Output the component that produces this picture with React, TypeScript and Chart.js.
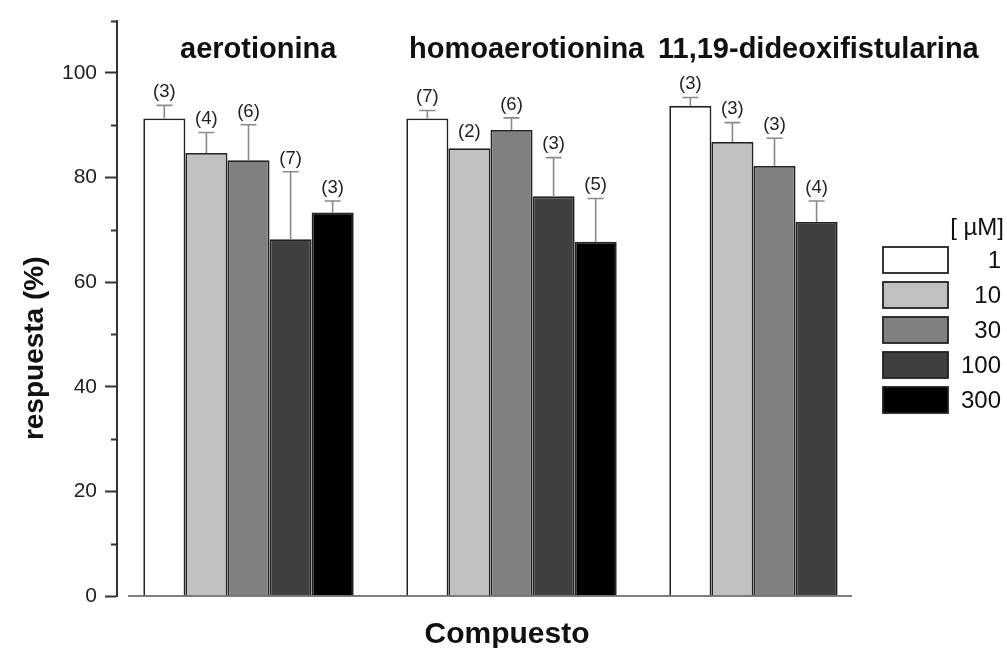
import React, { useEffect, useRef } from "react";
import { Chart, registerables } from "chart.js";

Chart.register(...registerables);

const compounds = ["aerotionina", "homoaerotionina", "11,19-dideoxifistularina"];
const concentrations = ["1", "10", "30", "100", "300"];
const barColors = ["#ffffff", "#c0c0c0", "#808080", "#404040", "#000000"];

// response (%) per concentration, in compound order
const resp1 = [91.3, 91.3, 93.7];
const resp10 = [84.7, 85.6, 86.8];
const resp30 = [83.3, 89.1, 82.2];
const resp100 = [68.2, 76.4, 71.5];
const resp300 = [73.3, 67.7, null];

// upper error (SEM) per concentration
const err1 = [2.5, 1.5, 1.6];
const err10 = [3.9, 0, 3.7];
const err30 = [6.8, 2.3, 5.3];
const err100 = [12.9, 7.4, 4.0];
const err300 = [2.2, 8.3, null];

// n per bar
const n1 = ["(3)", "(7)", "(3)"];
const n10 = ["(4)", "(2)", "(3)"];
const n30 = ["(6)", "(6)", "(3)"];
const n100 = ["(7)", "(3)", "(4)"];
const n300 = ["(3)", "(5)", null];

const yTicksMajor = [0, 20, 40, 60, 80, 100];

const values = [resp1, resp10, resp30, resp100, resp300];
const errors = [err1, err10, err30, err100, err300];
const ns = [n1, n10, n30, n100, n300];

const FONT = "'Liberation Sans', Arial, Helvetica, sans-serif";

const decorPlugin = {
  id: "decor",
  afterDatasetsDraw(chart: any) {
    const ctx = chart.ctx;
    const ca = chart.chartArea;
    const y = chart.scales.y;
    ctx.save();

    // error bars + n labels
    chart.data.datasets.forEach((ds: any, di: number) => {
      const meta = chart.getDatasetMeta(di);
      meta.data.forEach((bar: any, i: number) => {
        const v = ds.data[i];
        if (v == null) return;
        const e = errors[di][i] || 0;
        const topPx = y.getPixelForValue(v);
        const errPx = y.getPixelForValue(v + e);
        if (e > 0) {
          ctx.strokeStyle = "#8a8a8a";
          ctx.lineWidth = 1.6;
          ctx.beginPath();
          ctx.moveTo(bar.x, topPx);
          ctx.lineTo(bar.x, errPx);
          ctx.moveTo(bar.x - 8, errPx);
          ctx.lineTo(bar.x + 8, errPx);
          ctx.stroke();
        }
        const lab = ns[di][i];
        if (lab) {
          ctx.fillStyle = "#222";
          ctx.font = `18.5px ${FONT}`;
          ctx.textAlign = "center";
          ctx.textBaseline = "bottom";
          ctx.fillText(lab, bar.x, errPx - (e > 0 ? 4 : 7));
        }
      });
    });

    // minor y ticks
    ctx.strokeStyle = "#333";
    ctx.lineWidth = 2;
    y.ticks.forEach((t: any) => {
      if (t.value % 20 !== 0) {
        const py = Math.round(y.getPixelForValue(t.value)) + 0.5;
        ctx.beginPath();
        ctx.moveTo(ca.left - 6, py);
        ctx.lineTo(ca.left, py);
        ctx.stroke();
      }
    });

    // x baseline
    const by = y.getPixelForValue(0);
    ctx.strokeStyle = "#555";
    ctx.lineWidth = 1.5;
    ctx.beginPath();
    ctx.moveTo(ca.left + 11, by);
    ctx.lineTo(ca.right - 54, by);
    ctx.stroke();

    // compound titles at top
    ctx.fillStyle = "#111";
    ctx.font = `bold 29px ${FONT}`;
    ctx.textAlign = "left";
    ctx.textBaseline = "alphabetic";
    const titleLeft = [180, 409, 658];
    compounds.forEach((c, i) => {
      ctx.fillText(c, titleLeft[i], 58);
    });

    // y title
    ctx.save();
    ctx.translate(43, (ca.top + ca.bottom) / 2 + 40);
    ctx.rotate(-Math.PI / 2);
    ctx.textAlign = "center";
    ctx.textBaseline = "alphabetic";
    ctx.font = `bold 28px ${FONT}`;
    ctx.fillText("respuesta (%)", 0, 0);
    ctx.restore();

    // x title
    ctx.font = `bold 30px ${FONT}`;
    ctx.textAlign = "center";
    ctx.textBaseline = "alphabetic";
    ctx.fillText("Compuesto", 507, 643);

    // legend
    ctx.font = `24px ${FONT}`;
    ctx.textAlign = "right";
    ctx.textBaseline = "middle";
    ctx.fillStyle = "#111";
    ctx.fillText("[ \u00b5M]", 1004, 228);
    chart.data.datasets.forEach((ds: any, di: number) => {
      const by0 = 247 + di * 35;
      ctx.fillStyle = ds.backgroundColor;
      ctx.fillRect(883, by0, 65, 26);
      ctx.strokeStyle = "#222";
      ctx.lineWidth = 1.8;
      ctx.strokeRect(883, by0, 65, 26);
      ctx.fillStyle = "#111";
      ctx.fillText(ds.label, 1001, by0 + 14);
    });

    ctx.restore();
  },
};

export default function App() {
  const ref = useRef<HTMLCanvasElement>(null);
  useEffect(() => {
    if (!ref.current) return;
    const chart = new Chart(ref.current, {
      type: "bar",
      data: {
        labels: compounds,
        datasets: concentrations.map((c, i) => ({
          label: c,
          data: values[i],
          backgroundColor: barColors[i],
          borderColor: "#222",
          borderWidth: 1.8,
          categoryPercentage: 0.8,
          barPercentage: 1.0,
        })),
      },
      options: {
        responsive: false,
        animation: false,
        layout: { padding: { left: 0, right: 101, top: 16, bottom: 52 } },
        plugins: { legend: { display: false }, tooltip: { enabled: false } },
        scales: {
          x: { display: false },
          y: {
            min: 0,
            max: 110,
            afterFit: (s: any) => {
              s.width = 117;
            },
            border: { display: true, color: "#333", width: 2 },
            grid: {
              drawOnChartArea: false,
              drawTicks: true,
              tickLength: 12,
              tickWidth: 2,
              tickColor: (c: any) => (c.tick && c.tick.value % 20 === 0 ? "#333" : "rgba(0,0,0,0)"),
            },
            ticks: {
              stepSize: 10,
              padding: 8,
              color: "#222",
              font: { family: FONT, size: 21 },
              callback: (v: any) => (yTicksMajor.includes(Number(v)) ? String(v) : ""),
            },
          },
        },
      },
      plugins: [decorPlugin],
    });
    return () => chart.destroy();
  }, []);
  return (
    <div style={{ position: "absolute", left: 0, top: 0, width: 1007, height: 648, background: "#fff" }}>
      <canvas ref={ref} width={1007} height={648} />
    </div>
  );
}
